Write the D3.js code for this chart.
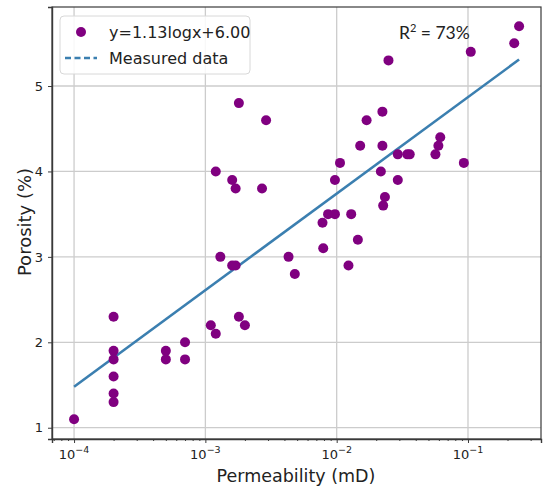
<!DOCTYPE html>
<html>
<head>
<meta charset="utf-8">
<script src="https://cdn.jsdelivr.net/npm/d3@7"></script>
<style>
  body { margin: 0; background: #fff; }
  svg { font-family: "DejaVu Sans", sans-serif; }
</style>
</head>
<body>
<svg id="chart"></svg>
<script>
// permeability (mD) and porosity (%)
var permeability = [
  0.0001,
  0.0002, 0.0002, 0.0002, 0.0002, 0.0002, 0.0002,
  0.0005, 0.0005, 0.0007, 0.0007,
  0.0011, 0.0012, 0.0012, 0.0013,
  0.0016, 0.0016, 0.0017, 0.0017, 0.0018, 0.0018, 0.0020,
  0.0027, 0.0029, 0.0043, 0.0048,
  0.0078, 0.0079, 0.0086, 0.0097, 0.0097, 0.0106,
  0.0123, 0.0129, 0.0145, 0.0151, 0.0169,
  0.0217, 0.0223, 0.0223, 0.0226, 0.0233, 0.0248,
  0.0292, 0.0292, 0.0345, 0.0360,
  0.0565, 0.0595, 0.0615, 0.093, 0.105, 0.225, 0.245
];
var porosity = [
  1.1,
  2.3, 1.9, 1.8, 1.6, 1.4, 1.3,
  1.9, 1.8, 2.0, 1.8,
  2.2, 2.1, 4.0, 3.0,
  3.9, 2.9, 3.8, 2.9, 4.8, 2.3, 2.2,
  3.8, 4.6, 3.0, 2.8,
  3.4, 3.1, 3.5, 3.9, 3.5, 4.1,
  2.9, 3.5, 3.2, 4.3, 4.6,
  4.0, 4.7, 4.3, 3.6, 3.7, 5.3,
  4.2, 3.9, 4.2, 4.2,
  4.2, 4.3, 4.4, 4.1, 5.4, 5.5, 5.7
];
var fitSlope = 1.13;
var fitIntercept = 6.00;
var yTicks = [1, 2, 3, 4, 5];
var xMajor = [1e-4, 1e-3, 1e-2, 1e-1];
var xMinor = [7e-5, 8e-5, 9e-5,
  2e-4, 3e-4, 4e-4, 5e-4, 6e-4, 7e-4, 8e-4, 9e-4,
  2e-3, 3e-3, 4e-3, 5e-3, 6e-3, 7e-3, 8e-3, 9e-3,
  2e-2, 3e-2, 4e-2, 5e-2, 6e-2, 7e-2, 8e-2, 9e-2,
  2e-1, 3e-1];

var data = permeability.map(function (k, i) { return { k: k, p: porosity[i] }; });

var width = 544, height = 495;
var margin = { top: 7, right: 3, bottom: 56, left: 52 };

var svg = d3.select("#chart").attr("width", width).attr("height", height);

var x = d3.scaleLog()
  .domain([Math.pow(10, -4.168), Math.pow(10, -0.444)])
  .range([margin.left, width - margin.right]);
var y = d3.scaleLinear()
  .domain([0.868, 5.925])
  .range([height - margin.bottom, margin.top]);

var gridColor = "#cccccc";
var axisColor = "#3a3a3a";

// grid
svg.append("g").selectAll("line").data(xMajor).enter().append("line")
  .attr("x1", function (d) { return x(d); }).attr("x2", function (d) { return x(d); })
  .attr("y1", y.range()[0]).attr("y2", y.range()[1])
  .attr("stroke", gridColor).attr("stroke-width", 1.3);
svg.append("g").selectAll("line").data(yTicks).enter().append("line")
  .attr("y1", function (d) { return y(d); }).attr("y2", function (d) { return y(d); })
  .attr("x1", x.range()[0]).attr("x2", x.range()[1])
  .attr("stroke", gridColor).attr("stroke-width", 1.3);

// axes
svg.append("g")
  .attr("transform", "translate(0," + y.range()[0] + ")")
  .call(d3.axisBottom(x).tickValues(xMajor).tickSize(4).tickFormat(""));
svg.append("g")
  .attr("transform", "translate(0," + y.range()[0] + ")")
  .call(d3.axisBottom(x).tickValues(xMinor).tickSize(2).tickFormat(""))
  .call(function (g) { g.select(".domain").remove(); });
var yAxis = svg.append("g")
  .attr("transform", "translate(" + margin.left + ",0)")
  .call(d3.axisLeft(y).tickValues(yTicks).tickSize(4).tickPadding(5).tickFormat(d3.format("d")));
yAxis.selectAll("text").attr("font-size", 13).attr("fill", "#222").attr("font-family", "DejaVu Sans");

svg.selectAll(".tick line").attr("stroke", axisColor);
svg.selectAll(".domain").attr("stroke", axisColor).attr("stroke-width", 1.4);

// x tick labels with superscript exponents
xMajor.forEach(function (d) {
  var t = svg.append("text")
    .attr("x", x(d)).attr("y", y.range()[0] + 20)
    .attr("text-anchor", "middle")
    .attr("font-size", 13).attr("fill", "#222");
  t.append("tspan").text("10");
  t.append("tspan").attr("dy", -6).attr("font-size", 9.5)
    .text("\u2212" + Math.round(-Math.log10(d)));
});

// frame top/right
svg.append("rect")
  .attr("x", margin.left).attr("y", margin.top)
  .attr("width", x.range()[1] - margin.left)
  .attr("height", y.range()[0] - margin.top)
  .attr("fill", "none").attr("stroke", axisColor).attr("stroke-width", 1.2);

// fit line
var kMin = d3.min(permeability), kMax = d3.max(permeability);
var fitLine = d3.line()
  .x(function (d) { return x(d); })
  .y(function (d) { return y(fitSlope * Math.log10(d) + fitIntercept); });
svg.append("path")
  .datum([kMin, kMax])
  .attr("d", fitLine)
  .attr("fill", "none")
  .attr("stroke", "#3b7fb0")
  .attr("stroke-width", 2.6);

// points
svg.append("g").selectAll("circle").data(data).enter().append("circle")
  .attr("cx", function (d) { return x(d.k); })
  .attr("cy", function (d) { return y(d.p); })
  .attr("r", 5)
  .attr("fill", "#800080");

// legend
var lg = svg.append("g");
lg.append("rect")
  .attr("x", 60).attr("y", 16).attr("width", 190).attr("height", 58).attr("rx", 4)
  .attr("fill", "#fff").attr("fill-opacity", 0.85)
  .attr("stroke", "#d8d8d8");
lg.append("circle").attr("cx", 81).attr("cy", 32).attr("r", 5).attr("fill", "#800080");
lg.append("text").attr("x", 109).attr("y", 38).attr("font-size", 16).attr("fill", "#222")
  .text("y=" + fitSlope.toFixed(2) + "logx+" + fitIntercept.toFixed(2));
lg.append("line").attr("x1", 65).attr("x2", 97).attr("y1", 58).attr("y2", 58)
  .attr("stroke", "#3b7fb0").attr("stroke-width", 2.6).attr("stroke-dasharray", "6,3.5");
lg.append("text").attr("x", 109).attr("y", 64).attr("font-size", 16).attr("fill", "#222")
  .text("Measured data");

// R squared
var r2 = svg.append("text").attr("x", 399).attr("y", 39)
  .attr("font-family", "Lato, sans-serif").attr("font-size", 17.5).attr("fill", "#222");
r2.append("tspan").text("R");
r2.append("tspan").attr("dy", -7).attr("font-size", 11).text("2");
r2.append("tspan").attr("dy", 7).text(" = 73%");

// axis titles
svg.append("text")
  .attr("x", 296).attr("y", 482)
  .attr("text-anchor", "middle").attr("font-size", 17.5).attr("fill", "#222")
  .text("Permeability (mD)");
svg.append("text")
  .attr("transform", "translate(31," + 222 + ") rotate(-90)")
  .attr("text-anchor", "middle").attr("font-size", 18).attr("fill", "#222")
  .text("Porosity (%)");
</script>
</body>
</html>
